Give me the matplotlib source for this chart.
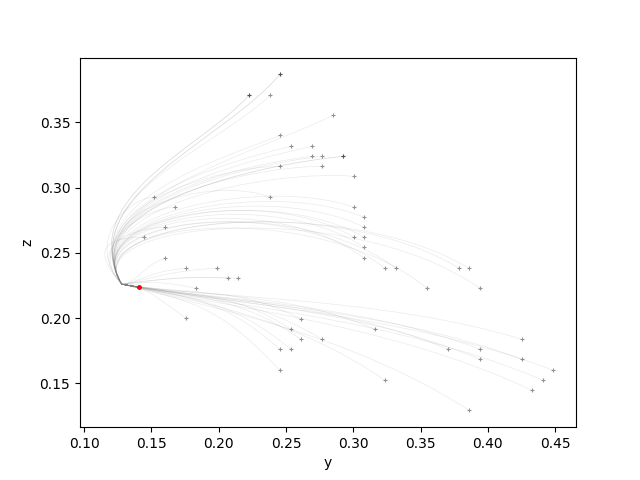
import matplotlib
matplotlib.use("Agg")
import matplotlib.pyplot as plt
from matplotlib.path import Path
from matplotlib.patches import PathPatch

# start points of the trajectories (y, z), grouped by the bundle they follow
upper_y = [0.2456, 0.2456, 0.2226, 0.2226, 0.2382, 0.2850, 0.2456, 0.2538, 0.2694,
           0.2694, 0.2768, 0.2924, 0.2924, 0.2456, 0.2768, 0.3006, 0.2382, 0.3006,
           0.3080, 0.3080, 0.3006, 0.3080, 0.3080, 0.3080, 0.3236, 0.3318, 0.3786,
           0.3860, 0.3548, 0.3942]
upper_z = [0.3868, 0.3868, 0.3707, 0.3707, 0.3707, 0.3554, 0.3400, 0.3316, 0.3316,
           0.3239, 0.3239, 0.3239, 0.3239, 0.3163, 0.3163, 0.3086, 0.2925, 0.2849,
           0.2772, 0.2695, 0.2619, 0.2619, 0.2542, 0.2458, 0.2381, 0.2381, 0.2381,
           0.2381, 0.2228, 0.2228]

hook_y = [0.1520, 0.1676, 0.1602, 0.1446]
hook_z = [0.2925, 0.2849, 0.2695, 0.2619]

near_y = [0.1602, 0.1758, 0.1988, 0.2070, 0.2144, 0.1832, 0.1758]
near_z = [0.2458, 0.2381, 0.2381, 0.2305, 0.2305, 0.2228, 0.1998]

lower_y = [0.2612, 0.2538, 0.3162, 0.2612, 0.2768, 0.4254, 0.2456, 0.2538, 0.3704,
           0.3942, 0.3942, 0.4254, 0.4484, 0.2456, 0.4410, 0.3236, 0.4328, 0.3860]
lower_z = [0.1990, 0.1914, 0.1914, 0.1837, 0.1837, 0.1837, 0.1761, 0.1761, 0.1761,
           0.1761, 0.1684, 0.1684, 0.1600, 0.1600, 0.1523, 0.1523, 0.1446, 0.1293]

# convergence point of the trajectories and the goal (red)
turn_y, turn_z = 0.128, 0.226
goal_y, goal_z = 0.1409, 0.2236

# bundle via points
upper_via = (0.093, 0.284)
hook_via = (0.100, 0.258)
near_via = (0.140, 0.227)
lower_via = (0.185, 0.214)

fig, ax = plt.subplots(figsize=(6.4, 4.8), dpi=100)

line_kw = dict(facecolor="none", edgecolor="gray", linewidth=0.5, alpha=0.16)


def draw_traj(sy, sz, c1, c2):
    verts = [(sy, sz), c1, c2, (turn_y, turn_z), (goal_y, goal_z)]
    codes = [Path.MOVETO, Path.CURVE4, Path.CURVE4, Path.CURVE4, Path.LINETO]
    ax.add_patch(PathPatch(Path(verts, codes), **line_kw))


for sy, sz in zip(upper_y, upper_z):
    c1 = (sy - 0.35 * (sy - 0.12), 0.312 + 0.25 * (sz - 0.30))
    c2 = (upper_via[0], upper_via[1] + 0.12 * (sz - 0.30))
    draw_traj(sy, sz, c1, c2)

for sy, sz in zip(hook_y, hook_z):
    c1 = (sy - 0.02, sz)
    draw_traj(sy, sz, c1, hook_via)

for sy, sz in zip(near_y, near_z):
    c1 = (0.5 * (sy + turn_y), 0.5 * (sz + turn_z) + 0.005)
    draw_traj(sy, sz, c1, near_via)

for sy, sz in zip(lower_y, lower_z):
    c1 = (sy - 0.35 * (sy - turn_y), 0.5 * (sz + 0.21) + 0.02)
    c2 = (lower_via[0], lower_via[1] + 0.1 * (sz - 0.17))
    draw_traj(sy, sz, c1, c2)

all_y = upper_y + hook_y + near_y + lower_y
all_z = upper_z + hook_z + near_z + lower_z
ax.plot(all_y, all_z, linestyle="none", marker="+", color="black", alpha=0.42,
        markersize=3.2, markeredgewidth=0.8)

ax.plot([goal_y], [goal_z], linestyle="none", marker="o", color="red", markersize=2.5)

ax.set_xlim(0.0970, 0.4655)
ax.set_ylim(0.1164, 0.3996)
ax.set_xlabel("y")
ax.set_ylabel("z")

fig.savefig("out.png", dpi=100)
